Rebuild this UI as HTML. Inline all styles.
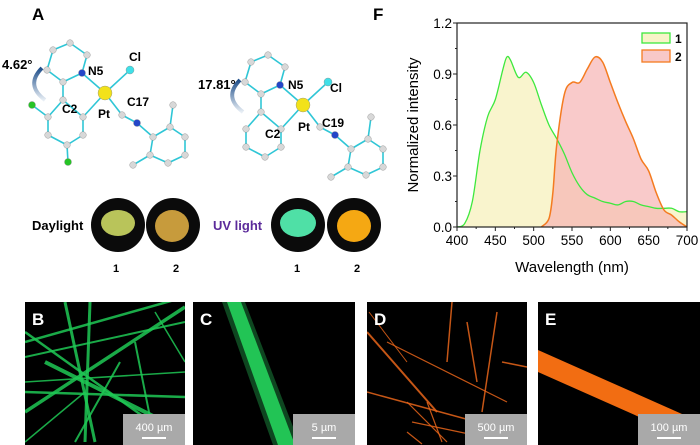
<!DOCTYPE html>
<html><head><meta charset="utf-8"><style>
html,body{margin:0;width:700px;height:445px;background:#fff;overflow:hidden;font-family:"Liberation Sans",Arial,sans-serif}
svg{position:absolute;left:0;top:0;display:block}
</style></head><body>
<svg width="700" height="445" viewBox="0 0 700 445">
<defs>
<linearGradient id="arr" x1="0" y1="0" x2="0" y2="1"><stop offset="0" stop-color="#1f4e8a"/><stop offset="1" stop-color="#e8eef5"/></linearGradient>
</defs>
<text x="32" y="20" font-size="17" font-weight="bold">A</text>
<text x="373" y="20" font-size="17" font-weight="bold">F</text>
<g id="mol1"></g>
<g id="mol2"></g>
<text x="2" y="69" font-size="13" font-weight="bold">4.62°</text>
<text x="198" y="89" font-size="13" font-weight="bold">17.81°</text>
<g font-size="12" font-weight="bold">
<text x="88" y="75">N5</text><text x="129" y="61">Cl</text><text x="98" y="118">Pt</text><text x="127" y="106">C17</text><text x="62" y="113">C2</text>
<text x="288" y="89">N5</text><text x="330" y="92">Cl</text><text x="298" y="131">Pt</text><text x="322" y="127">C19</text><text x="265" y="138">C2</text>
</g>
<text x="32" y="230" font-size="13" font-weight="bold">Daylight</text>
<text x="213" y="230" font-size="13" font-weight="bold" fill="#5b2a9a">UV light</text>
<g>
<circle cx="118" cy="225" r="27" fill="#0b0b0b"/><ellipse cx="118" cy="223" rx="17" ry="13" fill="#b9c45a"/>
<circle cx="173" cy="225" r="27" fill="#0b0b0b"/><ellipse cx="172" cy="226" rx="17" ry="16" fill="#c79b3c"/>
<circle cx="298" cy="225" r="27" fill="#0b0b0b"/><ellipse cx="298" cy="223" rx="18" ry="14" fill="#4fe0a6"/>
<circle cx="354" cy="225" r="27" fill="#0b0b0b"/><ellipse cx="354" cy="226" rx="17" ry="16" fill="#f5a813"/>
</g>
<g font-size="11" font-weight="bold" text-anchor="middle">
<text x="116" y="272">1</text><text x="176" y="272">2</text><text x="297" y="272">1</text><text x="357" y="272">2</text>
</g>
<g id="chart"></g>
<g id="micro"></g>
</svg>
<script>
const NS='http://www.w3.org/2000/svg';
function mk(p,t,a){const e=document.createElementNS(NS,t);for(const k in a)e.setAttribute(k,a[k]);p.appendChild(e);return e;}
const atoms=[[53,50],[70,43],[87,55],[82,73],[63,82],[47,70],[63,100],[48,117],[48,135],[67,145],[83,135],[83,117],[105,93],[130,70],[122,115],[137,123],[153,137],[170,127],[185,137],[185,155],[168,163],[150,155],[173,105],[133,165],[32,105],[68,162]];
const bonds=[[0,1],[1,2],[2,3],[3,4],[4,5],[5,0],[4,6],[6,7],[7,8],[8,9],[9,10],[10,11],[11,6],[3,12],[11,12],[12,13],[12,14],[14,15],[15,16],[16,17],[17,18],[18,19],[19,20],[20,21],[21,16],[17,22],[21,23],[7,24],[9,25]];
function mol(id,dx,dy,hal){const g=document.getElementById(id);
 bonds.forEach(b=>{if(!hal&&(b[0]>=24||b[1]>=24))return;const a=atoms[b[0]],c=atoms[b[1]];const l=mk(g,'line',{x1:a[0]+dx,y1:a[1]+dy,x2:c[0]+dx,y2:c[1]+dy,stroke:'#2fc6d6','stroke-width':1.6});});
 atoms.forEach((a,i)=>{if(!hal&&i>=24)return;let f='#d8d8d8',r=3.3;if(i==12){f='#f2e21a';r=7;}else if(i==3||i==15){f='#2346c8';r=3.5;}else if(i==13){f='#3fe0e8';r=4;}else if(i>=24){f='#26c426';r=3.5;}
 const c=mk(g,'circle',{cx:a[0]+dx,cy:a[1]+dy,r:r,fill:f,stroke:'#888','stroke-width':0.4});});
 mk(g,'path',{d:`M${42+dx} ${68+dy} Q${25+dx} ${85+dy} ${45+dx} ${100+dy}`,stroke:'url(#arr)','stroke-width':4,fill:'none'});
}
mol('mol1',0,0,true);mol('mol2',198,12,false);

const xTicks=[400,450,500,550,600,650,700];
const yTicks=[0.0,0.3,0.6,0.9,1.2];
const wl1=[400,410,420,430,440,450,460,465,470,480,490,500,510,520,530,540,550,560,570,580,590,600,610,620,630,640,650,660,670,680,690,700];
const int1=[0,0.02,0.15,0.45,0.65,0.75,0.93,1.0,0.98,0.88,0.91,0.85,0.72,0.6,0.52,0.43,0.32,0.24,0.19,0.17,0.15,0.14,0.13,0.15,0.15,0.13,0.12,0.11,0.11,0.11,0.09,0.09];
const wl2=[510,520,525,530,540,550,560,570,580,590,600,610,620,630,640,650,660,670,680,690,700];
const int2=[0,0.05,0.2,0.48,0.78,0.85,0.85,0.93,1.0,0.97,0.85,0.73,0.62,0.52,0.4,0.33,0.2,0.1,0.07,0.03,0];
const X0=457,X1=687,Y0=227,Y1=23;
const sx=v=>X0+(v-400)/300*(X1-X0), sy=v=>Y0-v/1.2*(Y0-Y1);
const ch=document.getElementById('chart');
function smooth(xs,ys){const p=xs.map((x,i)=>[sx(x),sy(ys[i])]);let d=`M${p[0][0]} ${p[0][1]}`;
 for(let i=0;i<p.length-1;i++){const p0=p[Math.max(0,i-1)],p1=p[i],p2=p[i+1],p3=p[Math.min(p.length-1,i+2)];
 d+=` C${p1[0]+(p2[0]-p0[0])/6} ${p1[1]+(p2[1]-p0[1])/6} ${p2[0]-(p3[0]-p1[0])/6} ${p2[1]-(p3[1]-p1[1])/6} ${p2[0]} ${p2[1]}`;}return d;}
const d1=smooth(wl1,int1),d2=smooth(wl2,int2);
let e;
e=mk(ch,'path',{d:d1+` L${sx(700)} ${sy(0)} L${sx(400)} ${sy(0)} Z`,fill:'#f8f3c8',opacity:0.9});
e=mk(ch,'path',{d:d2+` L${sx(510)} ${sy(0)} Z`,fill:'#f7b3b3',opacity:0.7});
e=mk(ch,'path',{d:d1,fill:'none',stroke:'#3ee83e','stroke-width':1.3});
e=mk(ch,'path',{d:d2,fill:'none',stroke:'#f47b20','stroke-width':1.5});
e=mk(ch,'rect',{x:X0,y:Y1,width:X1-X0,height:Y0-Y1,fill:'none',stroke:'#222','stroke-width':1.2});
xTicks.forEach((t,i)=>{mk(ch,'line',{x1:sx(t),y1:Y0,x2:sx(t),y2:Y0+4,stroke:'#222'});if(i<6)mk(ch,'line',{x1:sx(t+25),y1:Y0,x2:sx(t+25),y2:Y0+2,stroke:'#222'});
 e=mk(ch,'text',{x:sx(t),y:Y0+18,'font-size':13.5,'text-anchor':'middle'});e.textContent=t;});
yTicks.forEach((t,i)=>{mk(ch,'line',{x1:X0-4,y1:sy(t),x2:X0,y2:sy(t),stroke:'#222'});if(i<4)mk(ch,'line',{x1:X0-2,y1:sy(t+0.15),x2:X0,y2:sy(t+0.15),stroke:'#222'});
 e=mk(ch,'text',{x:X0-5,y:sy(t)+5,'font-size':13.5,'text-anchor':'end'});e.textContent=t.toFixed(1);});
e=mk(ch,'text',{x:sx(550),y:272,'font-size':15,'text-anchor':'middle'});e.textContent='Wavelength (nm)';
e=mk(ch,'text',{x:0,y:0,'font-size':15,'text-anchor':'middle',transform:`translate(418,${(Y0+Y1)/2}) rotate(-90)`});e.textContent='Normalized intensity';
e=mk(ch,'rect',{x:642,y:33,width:28,height:10,fill:'#f8f3c8',stroke:'#3ee83e','stroke-width':1.3});
e=mk(ch,'rect',{x:642,y:50,width:28,height:12,fill:'#f8c8c8',stroke:'#f47b20','stroke-width':1.3});
e=mk(ch,'text',{x:675,y:43,'font-size':12,'font-weight':'bold'});e.textContent='1';
e=mk(ch,'text',{x:675,y:61,'font-size':12,'font-weight':'bold'});e.textContent='2';

const mg=document.getElementById('micro');
const panels=[['B',25,185,'400 µm','#1fc855'],['C',193,355,'5 µm','#22c455'],['D',367,527,'500 µm','#e8651a'],['E',538,700,'100 µm','#f26d12']];
const lines={
B:[[0,40,160,-5,2.5],[0,55,160,20,2],[0,90,160,95,2.5],[0,110,160,5,3.5],[40,0,70,140,3],[65,0,60,140,3],[20,60,160,130,4],[0,30,140,130,2.5],[110,40,130,140,2],[95,60,50,140,2],[0,140,60,90,1.5],[130,10,160,60,1.5],[0,80,160,70,1.5]],
D:[[0,30,70,110,2],[20,40,140,100,1.2],[85,0,80,60,1.5],[130,10,115,110,1.5],[100,20,110,80,1.5],[0,90,110,120,1.5],[40,100,80,140,1.2],[45,120,140,140,1.2],[40,130,55,142,1.2],[135,60,160,65,1.5],[60,100,75,140,1.2],[2,10,40,60,1]]};
panels.forEach(p=>{const [lab,x0,x1,sb,col]=p;const g=mk(mg,'g',{});
 mk(g,'rect',{x:x0,y:302,width:x1-x0,height:143,fill:'#000'});
 const cl=mk(g,'clipPath',{id:'cp'+lab});mk(cl,'rect',{x:x0,y:302,width:x1-x0,height:143});
 const gg=mk(g,'g',{'clip-path':`url(#cp${lab})`});
 if(lab==='C'){mk(gg,'polygon',{points:'222,302 245,302 300,445 273,445',fill:'#0e4620'});mk(gg,'polygon',{points:'227,302 241,302 295,445 278,445',fill:col});}
 else if(lab==='E'){mk(gg,'polygon',{points:'538,350 700,422 700,444 538,372',fill:col});}
 else lines[lab].forEach(l=>mk(gg,'line',{x1:x0+l[0],y1:302+l[1],x2:x0+l[2],y2:302+l[3],stroke:col,'stroke-width':l[4],opacity:0.85}));
 let t=mk(g,'text',{x:x0+7,y:325,'font-size':17,'font-weight':'bold',fill:'#fff'});t.textContent=lab;
 mk(g,'rect',{x:x1-62,y:414,width:62,height:31,fill:'#a9a9a9'});
 t=mk(g,'text',{x:x1-31,y:431,'font-size':11,fill:'#fff','text-anchor':'middle'});t.textContent=sb;
 mk(g,'line',{x1:x1-43,y1:438,x2:x1-19,y2:438,stroke:'#fff','stroke-width':2});
});
</script>
</body></html>
